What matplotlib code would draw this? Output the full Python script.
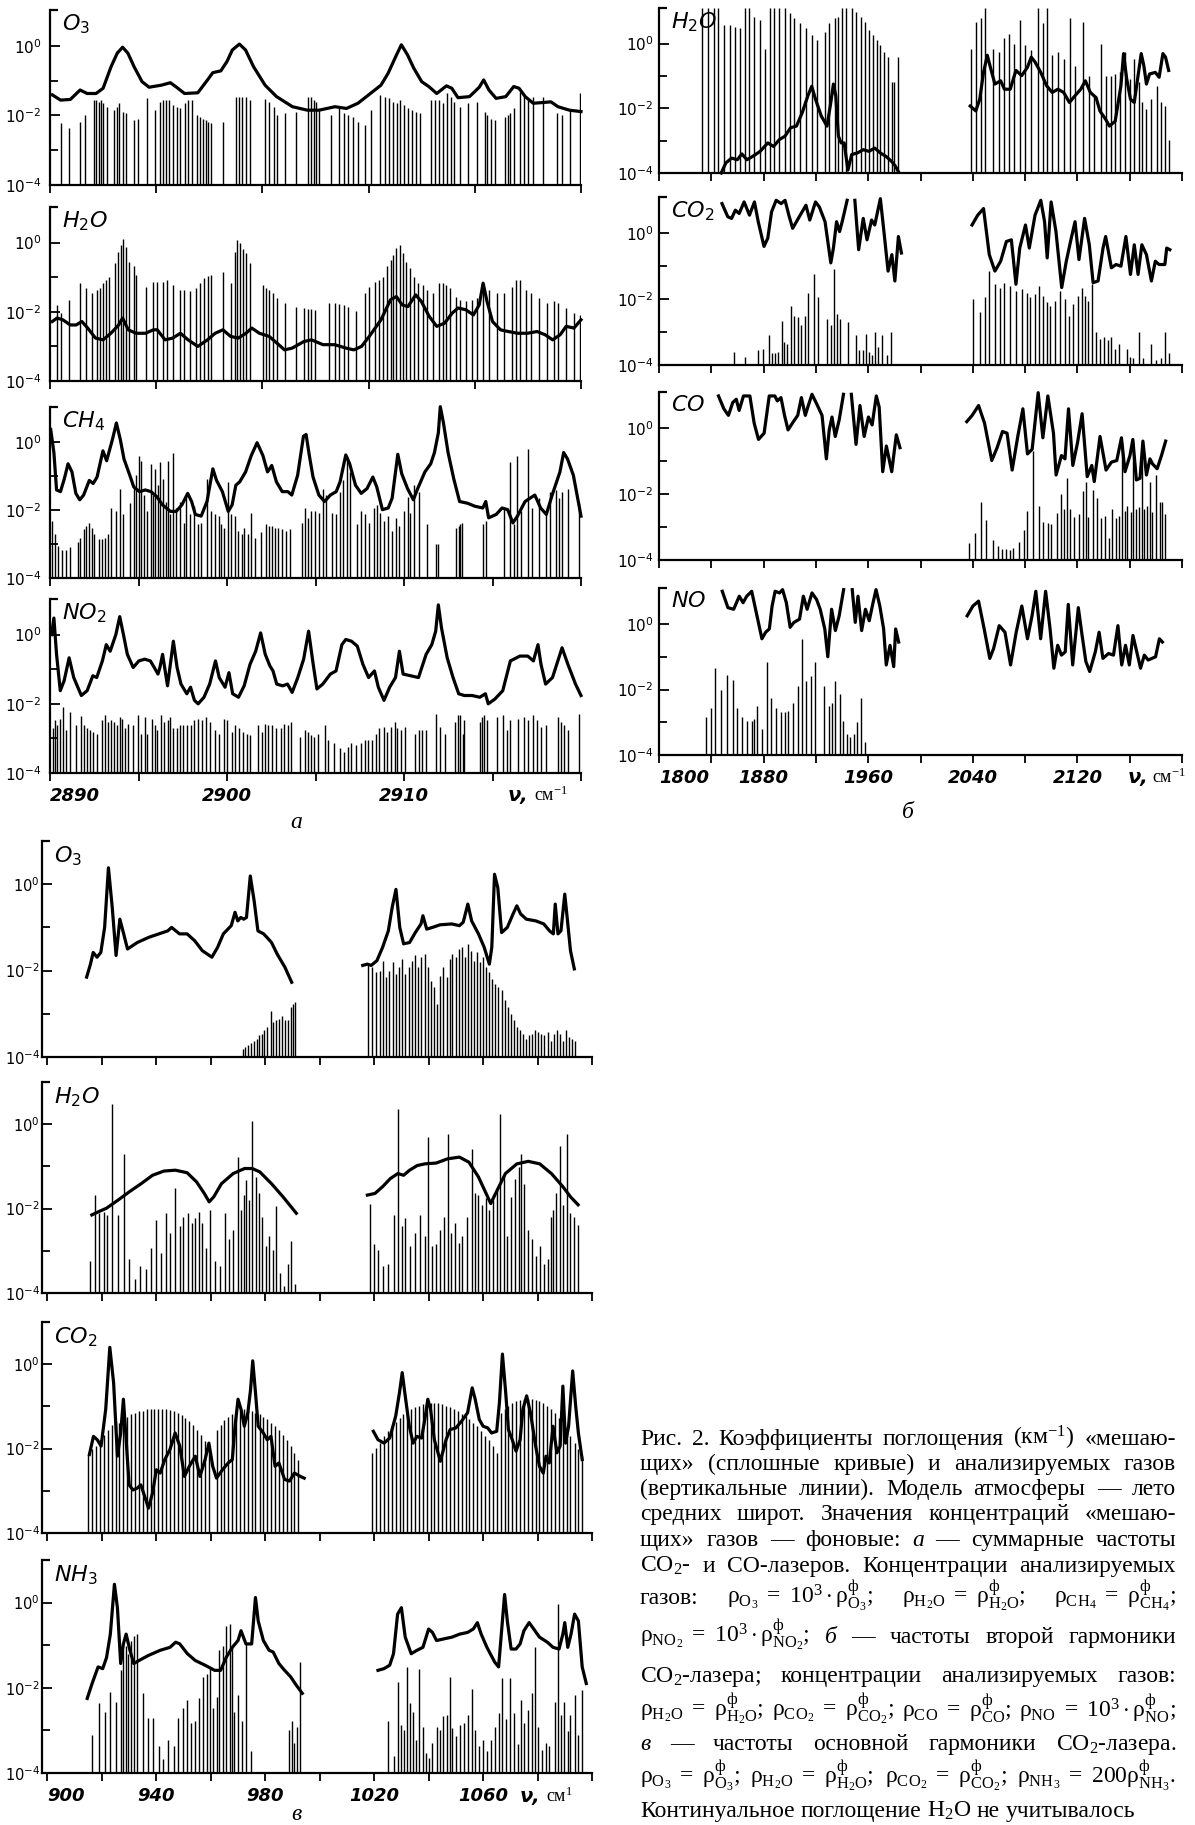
import numpy as np
import matplotlib
matplotlib.use("Agg")
import matplotlib.pyplot as plt
from matplotlib.ticker import FixedLocator, NullFormatter

plt.rcParams["mathtext.fontset"] = "custom"
plt.rcParams["mathtext.rm"] = "Liberation Serif"
plt.rcParams["mathtext.it"] = "Liberation Serif:italic"
plt.rcParams["mathtext.bf"] = "Liberation Serif:bold"

W, H = 1195, 1825

# ---------------- group "а": 2890-2920 cm-1 (lines: x, log10 k) ----------------
a_o3_lines = [(2890.6, -2.23), (2891.05, -2.37), (2891.7, -2.18), (2891.96, -1.99), (2892.46, -1.56),
              (2892.62, -1.56), (2892.75, -1.61), (2892.9, -1.56), (2893.0, -1.65), (2893.23, -1.75),
              (2893.62, -1.85), (2893.77, -1.75), (2893.92, -1.65), (2894.1, -1.90), (2894.32, -1.94),
              (2894.75, -2.14), (2894.97, -2.09), (2895.5, -1.51), (2895.95, -1.85), (2896.23, -1.61),
              (2896.4, -1.56), (2896.54, -1.56), (2896.7, -1.56), (2896.93, -1.70), (2897.15, -1.75),
              (2897.37, -1.80), (2897.63, -1.65), (2897.8, -1.56), (2898.0, -1.56), (2898.28, -1.99),
              (2898.46, -2.04), (2898.63, -2.09), (2898.8, -2.14), (2898.94, -2.18), (2899.1, -2.23),
              (2899.77, -2.18), (2900.53, -1.46), (2900.68, -1.46), (2900.86, -1.46), (2901.07, -1.46),
              (2901.3, -1.56), (2902.16, -1.54), (2902.38, -1.61), (2902.64, -1.75), (2902.82, -1.99),
              (2903.25, -1.94), (2903.9, -1.90), (2904.56, -1.46), (2904.74, -1.46), (2904.9, -1.56),
              (2905.04, -1.61), (2905.22, -1.85), (2905.87, -1.99), (2906.35, -1.80), (2906.63, -1.94),
              (2906.85, -1.99), (2907.13, -2.04), (2907.4, -2.18), (2907.8, -2.28), (2908.16, -1.85),
              (2908.66, -1.41), (2908.92, -1.46), (2909.14, -1.51), (2909.36, -1.61), (2909.58, -1.65),
              (2909.8, -1.56), (2910.0, -1.70), (2910.23, -1.80), (2910.45, -1.85), (2910.67, -1.90),
              (2910.88, -1.94), (2911.54, -1.56), (2911.76, -1.56), (2911.97, -1.56), (2912.19, -1.65),
              (2912.45, -1.37), (2912.67, -1.46), (2912.85, -1.61), (2913.17, -1.75), (2913.6, -1.65),
              (2914.15, -1.61), (2914.55, -1.90), (2914.7, -1.99), (2914.92, -2.09), (2915.13, -2.14),
              (2915.68, -2.04), (2915.85, -1.99), (2916.0, -1.94), (2916.22, -1.80), (2916.55, -1.32),
              (2916.77, -1.41), (2917.0, -1.56), (2917.3, -1.46), (2917.86, -1.46), (2918.62, -1.94),
              (2918.95, -1.99), (2919.38, -1.85), (2919.95, -1.37)]
a_o3_curve = [(2890.13, -1.41), (2890.6, -1.56), (2891.15, -1.54), (2891.7, -1.27), (2892.1, -1.37),
              (2892.6, -1.37), (2893.0, -1.22), (2893.45, -0.60), (2893.8, -0.21), (2894.1, -0.04),
              (2894.4, -0.21), (2894.75, -0.60), (2895.2, -1.03), (2895.6, -1.19), (2896.3, -1.13),
              (2896.8, -1.06), (2897.15, -1.19), (2897.6, -1.37), (2898.35, -1.35), (2898.9, -0.98),
              (2899.2, -0.77), (2899.65, -0.72), (2900.0, -0.45), (2900.3, -0.12), (2900.7, 0.05),
              (2901.05, -0.12), (2901.5, -0.60), (2902.15, -1.13), (2902.8, -1.46), (2903.7, -1.75),
              (2904.55, -1.85), (2905.2, -1.85), (2906.1, -1.75), (2906.75, -1.80), (2907.4, -1.65),
              (2908.0, -1.41), (2908.7, -1.13), (2909.1, -0.79), (2909.55, -0.29), (2909.85, 0.03),
              (2910.2, -0.26), (2910.55, -0.64), (2911.0, -1.03), (2911.4, -1.17), (2911.85, -1.37),
              (2912.4, -1.15), (2912.7, -1.22), (2913.05, -1.49), (2913.7, -1.46), (2914.25, -1.19),
              (2914.5, -0.98), (2914.8, -1.27), (2915.2, -1.51), (2915.75, -1.46), (2916.2, -1.17),
              (2916.5, -1.22), (2916.85, -1.46), (2917.3, -1.65), (2917.85, -1.63), (2918.3, -1.61),
              (2918.7, -1.75), (2919.35, -1.85), (2920.0, -1.89)]

a_h2o_lines = [(2890.4, -1.80), (2890.6, -2.04), (2891.05, -1.65), (2891.7, -1.17), (2892.03, -1.31),
               (2892.35, -1.46), (2892.68, -1.37), (2892.83, -1.32), (2893.0, -1.17), (2893.18, -1.08),
               (2893.33, -0.98), (2893.66, -0.60), (2893.84, -0.26), (2894.0, -0.07), (2894.1, 0.10),
               (2894.27, -0.12), (2894.49, -0.55), (2894.75, -0.69), (2894.86, -0.93), (2895.4, -1.27),
               (2895.84, -1.13), (2896.06, -1.13), (2896.39, -1.13), (2896.6, -1.08), (2896.93, -1.22),
               (2897.37, -1.37), (2897.59, -1.37), (2897.91, -1.41), (2898.24, -1.32), (2898.46, -1.17),
               (2898.68, -1.03), (2898.9, -0.96), (2899.11, -0.93), (2899.77, -0.84), (2900.2, -1.17),
               (2900.46, -0.26), (2900.59, 0.08), (2900.74, -0.02), (2900.9, -0.17), (2901.07, -0.31),
               (2901.29, -0.60), (2902.05, -1.22), (2902.2, -1.32), (2902.38, -1.37), (2902.6, -1.46),
               (2902.81, -1.61), (2903.25, -1.75), (2903.9, -1.85), (2904.34, -1.89), (2904.56, -1.92),
               (2904.77, -1.92), (2904.99, -1.94), (2905.76, -1.75), (2906.08, -1.75), (2906.3, -1.77),
               (2906.63, -1.80), (2906.85, -1.85), (2907.28, -1.99), (2907.78, -1.46), (2908.04, -1.27),
               (2908.37, -1.13), (2908.59, -1.08), (2908.8, -0.98), (2909.02, -0.69), (2909.24, -0.50),
               (2909.4, -0.36), (2909.57, -0.16), (2909.79, -0.07), (2909.96, -0.31), (2910.11, -0.55),
               (2910.33, -0.74), (2910.55, -0.98), (2910.77, -1.17), (2911.05, -1.22), (2911.31, -1.37),
               (2911.64, -1.46), (2911.97, -1.17), (2912.19, -1.17), (2912.4, -1.22), (2912.62, -1.32),
               (2912.95, -1.56), (2913.17, -1.65), (2913.49, -1.70), (2913.82, -1.65), (2914.1, -1.61),
               (2914.47, -1.27), (2914.8, -1.37), (2915.23, -1.46), (2915.67, -1.46), (2916.11, -1.27),
               (2916.32, -1.08), (2916.54, -1.08), (2916.87, -1.37), (2917.2, -1.46), (2917.63, -1.61),
               (2918.07, -1.75), (2918.5, -1.70), (2918.72, -1.75), (2919.16, -1.89), (2919.6, -2.04),
               (2919.93, -2.09)]
a_h2o_curve = [(2890.13, -2.28), (2890.4, -2.18), (2890.72, -2.23), (2891.15, -2.38), (2891.48, -2.38),
               (2891.8, -2.28), (2892.13, -2.47), (2892.57, -2.76), (2893.0, -2.81), (2893.44, -2.62),
               (2893.88, -2.38), (2894.1, -2.18), (2894.42, -2.52), (2894.86, -2.62), (2895.4, -2.62),
               (2895.84, -2.52), (2896.06, -2.52), (2896.5, -2.81), (2896.93, -2.76), (2897.37, -2.62),
               (2897.8, -2.81), (2898.35, -3.0), (2898.9, -2.81), (2899.33, -2.62), (2899.77, -2.52),
               (2900.2, -2.71), (2900.64, -2.76), (2901.07, -2.62), (2901.4, -2.47), (2901.83, -2.62),
               (2902.38, -2.71), (2902.81, -2.90), (2903.25, -3.10), (2903.68, -3.05), (2904.34, -2.86),
               (2904.77, -2.81), (2905.42, -2.95), (2906.08, -2.95), (2906.73, -3.05), (2907.17, -3.10),
               (2907.6, -3.0), (2908.04, -2.71), (2908.7, -2.23), (2909.24, -1.65), (2909.57, -1.56),
               (2909.9, -1.80), (2910.22, -1.85), (2910.66, -1.51), (2910.98, -1.70), (2911.42, -2.13),
               (2911.85, -2.42), (2912.29, -2.33), (2912.72, -2.04), (2913.05, -1.89), (2913.49, -1.94),
               (2913.92, -2.09), (2914.25, -1.80), (2914.47, -1.17), (2914.69, -1.70), (2915.0, -2.28),
               (2915.45, -2.52), (2915.89, -2.57), (2916.43, -2.62), (2916.97, -2.62), (2917.52, -2.57),
               (2917.96, -2.66), (2918.4, -2.81), (2918.83, -2.66), (2919.16, -2.42), (2919.6, -2.47),
               (2920.0, -2.23)]

a_ch4_lines = [(2890.11, -2.33), (2890.26, -2.71), (2890.44, -3.05), (2890.7, -3.19), (2890.92, -3.19),
               (2891.13, -3.10), (2891.57, -2.95), (2891.72, -2.81), (2891.9, -2.57), (2892.05, -2.47),
               (2892.22, -2.38), (2892.38, -2.52), (2892.51, -2.71), (2892.77, -2.86), (2892.92, -2.86),
               (2893.09, -2.81), (2893.27, -2.71), (2893.42, -1.94), (2893.75, -2.04), (2893.97, -1.37),
               (2894.14, -2.13), (2894.51, -1.80), (2894.73, -1.27), (2894.84, -0.98), (2895.01, -0.40),
               (2895.16, -0.55), (2895.32, -1.56), (2895.49, -2.04), (2895.71, -0.64), (2895.82, -1.56),
               (2895.93, -0.79), (2896.1, -1.27), (2896.21, -0.60), (2896.36, -1.08), (2896.54, -1.75),
               (2896.69, -0.55), (2896.8, -2.13), (2896.95, -0.31), (2897.13, -1.94), (2897.34, -1.75),
               (2897.56, -2.38), (2897.71, -1.56), (2897.89, -2.13), (2898.11, -1.89), (2898.37, -2.42),
               (2898.54, -2.38), (2898.87, -1.08), (2899.09, -2.04), (2899.3, -2.13), (2899.52, -2.18),
               (2899.67, -2.42), (2899.85, -2.52), (2900.07, -1.17), (2900.24, -2.13), (2900.46, -2.18),
               (2900.61, -2.62), (2900.83, -2.71), (2900.98, -2.52), (2901.16, -2.71), (2901.37, -2.09),
               (2901.59, -2.81), (2901.92, -2.66), (2902.2, -2.42), (2902.35, -2.47), (2902.57, -2.47),
               (2902.73, -2.52), (2902.9, -2.52), (2903.12, -2.57), (2903.34, -2.62), (2903.55, -2.57),
               (2904.21, -2.38), (2904.43, -1.94), (2904.6, -2.23), (2904.75, -2.04), (2904.97, -2.04),
               (2905.19, -2.09), (2905.41, -1.37), (2905.62, -1.56), (2905.95, -2.09), (2906.17, -2.13),
               (2906.39, -1.46), (2906.56, -1.13), (2906.78, -0.40), (2906.93, -0.88), (2907.37, -2.42),
               (2907.58, -2.04), (2907.8, -2.13), (2908.02, -2.38), (2908.3, -1.94), (2908.46, -1.85),
               (2908.67, -2.09), (2908.89, -2.33), (2909.11, -2.18), (2909.33, -2.62), (2909.55, -2.23),
               (2909.7, -2.47), (2909.98, -2.04), (2910.2, -1.61), (2910.35, -2.09), (2910.57, -1.27),
               (2910.85, -1.46), (2911.29, -2.42), (2911.83, -2.99), (2911.9, -2.99), (2912.92, -2.52),
               (2913.08, -2.47), (2913.18, -2.42), (2913.29, -2.38), (2914.45, -2.42), (2914.62, -2.33),
               (2915.65, -1.94), (2915.97, -0.60), (2916.19, -2.42), (2916.41, -0.40), (2916.63, -2.04),
               (2917.02, -0.21), (2917.24, -1.94), (2917.61, -1.65), (2918.04, -2.04), (2918.26, -1.46),
               (2918.59, -1.41), (2918.76, -1.65), (2918.92, -1.46), (2919.24, -1.37), (2919.9, -1.80)]
a_ch4_curve = [(2890.04, 0.37), (2890.22, -0.31), (2890.37, -1.41), (2890.59, -1.46), (2890.81, -1.08),
               (2891.02, -0.64), (2891.24, -0.88), (2891.46, -1.51), (2891.68, -1.70), (2891.9, -1.56),
               (2892.22, -1.13), (2892.44, -1.22), (2892.66, -1.03), (2892.99, -0.26), (2893.2, -0.55),
               (2893.53, 0.08), (2893.75, 0.56), (2893.97, 0.08), (2894.18, -0.50), (2894.51, -0.98),
               (2894.73, -1.32), (2895.06, -1.46), (2895.38, -1.41), (2895.71, -1.46), (2896.04, -1.61),
               (2896.36, -1.85), (2896.8, -2.04), (2897.13, -2.04), (2897.45, -1.85), (2897.78, -1.51),
               (2898.0, -1.75), (2898.21, -2.13), (2898.54, -2.18), (2898.87, -1.75), (2899.2, -0.79),
               (2899.41, -1.13), (2899.74, -1.46), (2900.07, -2.04), (2900.29, -1.85), (2900.5, -1.27),
               (2900.72, -1.17), (2901.05, -0.88), (2901.37, -0.40), (2901.7, -0.02), (2902.03, -0.40),
               (2902.29, -0.88), (2902.53, -0.69), (2902.79, -1.17), (2903.12, -1.46), (2903.44, -1.46),
               (2903.66, -1.56), (2903.99, -0.98), (2904.32, 0.17), (2904.47, 0.22), (2904.64, -0.36),
               (2904.86, -1.03), (2905.19, -1.56), (2905.51, -1.75), (2905.84, -1.56), (2906.17, -1.46),
               (2906.39, -1.17), (2906.71, -0.38), (2906.93, -0.64), (2907.26, -1.27), (2907.58, -1.51),
               (2907.91, -1.37), (2908.24, -1.03), (2908.46, -1.32), (2908.78, -1.99), (2909.11, -1.94),
               (2909.33, -1.65), (2909.65, -0.36), (2909.87, -0.93), (2910.2, -1.37), (2910.53, -1.70),
               (2910.74, -1.41), (2911.18, -0.88), (2911.51, -0.64), (2911.72, -0.31), (2911.94, 0.27),
               (2912.05, 1.04), (2912.23, 0.56), (2912.49, -0.31), (2912.81, -1.08), (2913.14, -1.75),
               (2913.58, -1.80), (2914.01, -1.89), (2914.45, -1.94), (2914.62, -1.75), (2914.78, -2.23),
               (2915.21, -2.13), (2915.54, -1.94), (2915.86, -1.99), (2916.15, -2.38), (2916.41, -2.18),
               (2916.84, -1.75), (2917.39, -1.56), (2917.72, -1.94), (2918.04, -2.13), (2918.37, -1.56),
               (2918.81, -0.88), (2919.02, -0.31), (2919.24, -0.50), (2919.57, -0.98), (2920.0, -2.18)]

a_no2_lines = [(2890.15, -2.71), (2890.26, -2.48), (2890.41, -2.62), (2890.58, -2.43), (2890.74, -2.10),
               (2890.91, -2.76), (2891.13, -2.24), (2891.45, -2.62), (2891.77, -2.36), (2891.93, -2.62),
               (2892.1, -2.71), (2892.25, -2.76), (2892.42, -2.81), (2892.64, -2.86), (2892.96, -2.48),
               (2893.12, -2.33), (2893.29, -2.52), (2893.46, -2.48), (2893.61, -2.52), (2893.77, -2.62),
               (2893.94, -2.38), (2894.07, -2.43), (2894.26, -2.71), (2894.41, -2.57), (2894.7, -2.62),
               (2894.98, -2.33), (2895.13, -2.86), (2895.35, -2.38), (2895.5, -2.86), (2895.78, -2.43),
               (2895.93, -2.62), (2896.06, -2.76), (2896.28, -2.33), (2896.43, -2.52), (2896.64, -2.48),
               (2896.8, -2.38), (2896.97, -2.71), (2897.18, -2.71), (2897.36, -2.62), (2897.51, -2.62),
               (2897.73, -2.62), (2897.94, -2.62), (2898.16, -2.48), (2898.37, -2.43), (2898.59, -2.48),
               (2898.81, -2.38), (2899.02, -2.52), (2899.31, -2.76), (2899.52, -2.86), (2899.82, -2.43),
               (2900.0, -2.48), (2900.26, -2.81), (2900.47, -2.62), (2900.69, -2.71), (2900.91, -2.81),
               (2901.12, -2.86), (2901.3, -2.90), (2901.73, -2.62), (2901.95, -2.81), (2902.16, -2.57),
               (2902.33, -2.62), (2902.55, -2.62), (2902.77, -2.71), (2903.03, -2.71), (2903.2, -2.57),
               (2903.42, -2.62), (2903.63, -2.52), (2904.11, -2.95), (2904.43, -2.76), (2904.59, -2.81),
               (2904.72, -2.90), (2904.93, -2.95), (2905.15, -2.86), (2905.52, -2.62), (2905.73, -3.05),
               (2906.06, -3.14), (2906.38, -3.29), (2906.6, -3.38), (2906.81, -3.24), (2907.03, -3.14),
               (2907.31, -3.19), (2907.57, -3.14), (2907.79, -3.05), (2907.96, -3.05), (2908.18, -3.05),
               (2908.44, -2.86), (2908.61, -2.71), (2908.87, -2.67), (2909.04, -2.81), (2909.26, -2.67),
               (2909.48, -2.52), (2909.63, -2.71), (2909.84, -2.76), (2910.06, -2.67), (2910.6, -2.86),
               (2910.82, -2.76), (2910.99, -2.76), (2911.25, -2.76), (2911.79, -2.29), (2912.01, -2.67),
               (2912.33, -2.86), (2912.87, -2.52), (2913.03, -2.33), (2913.15, -2.33), (2913.31, -2.86),
               (2913.41, -2.48), (2914.28, -2.52), (2914.39, -2.38), (2914.5, -2.33), (2914.67, -2.48),
               (2915.25, -2.38), (2915.58, -2.33), (2915.8, -2.76), (2916.01, -2.48), (2916.44, -2.43),
               (2916.77, -2.38), (2916.98, -2.48), (2917.31, -2.33), (2917.53, -2.48), (2917.74, -2.67),
               (2918.0, -2.62), (2918.72, -2.38), (2918.87, -2.52), (2919.04, -2.62), (2919.26, -2.76),
               (2919.91, -2.29)]
a_no2_curve = [(2890.09, 0.0), (2890.22, 0.48), (2890.37, -0.57), (2890.58, -1.62), (2890.8, -1.33),
               (2891.08, -0.67), (2891.34, -1.24), (2891.77, -1.76), (2892.1, -1.62), (2892.42, -1.19),
               (2892.64, -1.24), (2892.96, -0.76), (2893.18, -0.29), (2893.4, -0.48), (2893.72, 0.0),
               (2893.94, 0.52), (2894.15, 0.0), (2894.37, -0.57), (2894.7, -0.95), (2895.02, -0.76),
               (2895.35, -0.71), (2895.67, -0.76), (2895.89, -0.95), (2896.1, -1.14), (2896.21, -0.95),
               (2896.36, -0.57), (2896.64, -1.48), (2896.97, -0.19), (2897.18, -0.95), (2897.4, -1.43),
               (2897.73, -1.71), (2897.94, -1.52), (2898.16, -1.90), (2898.37, -2.0), (2898.7, -1.81),
               (2899.02, -1.43), (2899.35, -0.76), (2899.56, -1.24), (2899.89, -1.52), (2900.11, -1.10),
               (2900.32, -1.71), (2900.65, -1.81), (2900.97, -1.48), (2901.3, -0.86), (2901.62, -0.48),
               (2901.9, 0.05), (2902.16, -0.57), (2902.42, -0.90), (2902.6, -1.05), (2902.81, -1.43),
               (2903.14, -1.48), (2903.42, -1.43), (2903.68, -1.67), (2904.0, -1.24), (2904.33, -0.71),
               (2904.61, 0.10), (2904.87, -0.86), (2905.08, -1.57), (2905.41, -1.43), (2905.84, -1.14),
               (2906.16, -1.05), (2906.49, -0.29), (2906.71, -0.14), (2907.03, -0.19), (2907.36, -0.33),
               (2907.68, -0.86), (2908.0, -1.24), (2908.33, -1.05), (2908.55, -1.52), (2908.87, -1.90),
               (2909.19, -1.52), (2909.52, -1.24), (2909.74, -0.48), (2909.95, -1.14), (2910.38, -1.19),
               (2910.82, -1.24), (2911.25, -0.57), (2911.57, -0.29), (2911.79, 0.10), (2911.94, 0.86),
               (2912.12, 0.19), (2912.44, -0.67), (2912.77, -1.24), (2913.09, -1.71), (2913.41, -1.76),
               (2913.85, -1.76), (2914.28, -1.81), (2914.6, -1.71), (2914.76, -2.0), (2915.14, -1.86),
               (2915.58, -1.62), (2916.01, -0.76), (2916.55, -0.62), (2916.99, -0.62), (2917.31, -0.76),
               (2917.57, -0.29), (2917.74, -0.86), (2918.0, -1.43), (2918.39, -1.24), (2918.93, -0.38),
               (2919.26, -0.86), (2919.69, -1.43), (2920.0, -1.76)]

# ---------------- group "б": 1800-2200 cm-1 ----------------
b_h2o_lines = [(1833.0, 1.1), (1837.4, 1.1), (1841.8, 1.1), (1845.3, 1.1), (1849.6, 0.57), (1854.0, 0.57),
               (1858.4, 0.52), (1862.2, 0.47), (1865.7, 1.1), (1869.2, 1.1), (1873.0, 0.83), (1877.4, 0.73),
               (1880.9, -0.16), (1884.7, 1.1), (1887.6, 1.1), (1892.0, 1.1), (1896.4, 1.09), (1900.1, 0.94),
               (1903.6, 0.78), (1908.0, 0.63), (1912.4, 0.47), (1916.8, 0.26), (1921.2, 0.10), (1927.0, 0.36),
               (1929.9, 0.63), (1934.3, 0.78), (1937.2, 0.83), (1940.1, 1.1), (1943.1, 1.1), (1947.4, 1.1),
               (1950.9, 0.99), (1954.7, 0.83), (1957.7, 0.68), (1960.6, 0.42), (1963.5, 0.26), (1966.4, 0.10),
               (1969.3, -0.05), (1972.3, -0.26), (1975.2, -0.42), (1978.1, -1.20), (1980.1, -1.20),
               (1982.5, -0.42),
               (2038.5, -0.16), (2042.3, 0.68), (2046.1, 0.78), (2049.6, 1.09), (2055.5, -0.16), (2059.9, -0.26),
               (2063.6, 0.16), (2067.7, 0.31), (2071.5, 0.0), (2075.9, 0.73), (2080.3, -0.05), (2084.7, -0.21),
               (2089.9, 1.1), (2093.4, 0.63), (2096.9, 1.1), (2100.7, -0.36), (2105.1, -0.26), (2109.5, -0.47),
               (2114.5, 0.78), (2118.2, -0.68), (2124.1, 0.68), (2128.5, -0.99), (2132.8, -1.61), (2137.8, 0.0),
               (2141.6, -0.99), (2145.4, -0.99), (2148.9, -0.94), (2152.4, -0.89), (2156.2, -0.26),
               (2160.6, -1.09), (2163.5, -0.47), (2167.0, -1.20), (2169.3, -1.82), (2172.8, -2.03),
               (2176.6, -1.72), (2181.0, -1.30), (2183.9, -1.82), (2186.9, -1.93), (2189.8, -2.97)]
b_h2o_curve = [
    [(1847.6, -4.0), (1851.1, -3.69), (1855.5, -3.54), (1859.9, -3.59), (1863.4, -3.41), (1867.2, -3.59),
     (1871.5, -3.49), (1877.4, -3.33), (1883.2, -3.07), (1887.6, -3.18), (1892.0, -2.97), (1896.4, -2.86),
     (1900.7, -2.60), (1905.1, -2.55), (1909.5, -2.14), (1913.9, -1.61), (1916.8, -1.32), (1919.7, -1.72),
     (1924.1, -2.24), (1928.5, -2.55), (1931.4, -1.82), (1933.4, -1.25), (1935.2, -1.61), (1937.2, -2.86),
     (1939.3, -3.07), (1941.6, -3.07), (1944.5, -3.91), (1947.4, -3.43), (1951.8, -3.38), (1956.2, -3.28),
     (1960.6, -3.33), (1965.0, -3.23), (1969.3, -3.38), (1973.7, -3.49), (1978.1, -3.65), (1981.0, -3.80),
     (1983.1, -3.96)],
    [(2038.0, -1.93), (2042.3, -2.08), (2045.3, -1.72), (2048.2, -0.89), (2051.1, -0.36), (2053.1, -0.68),
     (2056.9, -1.25), (2061.3, -1.15), (2064.2, -1.41), (2068.6, -1.41), (2073.0, -0.83), (2077.4, -0.99),
     (2081.8, -0.73), (2084.7, -0.42), (2087.6, -0.57), (2092.0, -0.89), (2096.4, -1.30), (2100.7, -1.51),
     (2105.1, -1.41), (2109.5, -1.51), (2113.9, -1.82), (2118.2, -1.61), (2122.6, -1.41), (2126.1, -1.15),
     (2129.9, -1.51), (2134.3, -1.67), (2137.2, -2.08), (2141.6, -2.34), (2144.5, -2.55), (2148.9, -2.40),
     (2153.3, -1.30), (2155.3, -0.31), (2157.7, -1.09), (2160.6, -1.72), (2163.5, -1.82), (2166.4, -0.99),
     (2168.8, -0.31), (2170.8, -0.68), (2172.8, -1.25), (2175.2, -0.94), (2179.6, -0.89), (2182.5, -1.04),
     (2185.4, -0.31), (2187.4, -0.42), (2189.8, -0.83)]]

b_co2_lines = [(1857.5, -3.60), (1865.7, -3.75), (1875.9, -3.55), (1879.7, -3.50), (1883.8, -3.10),
               (1886.1, -3.65), (1888.5, -3.65), (1890.8, -3.60), (1894.0, -2.65), (1895.5, -3.30),
               (1897.8, -3.35), (1901.3, -2.20), (1903.6, -2.50), (1906.0, -2.55), (1908.3, -2.80),
               (1911.5, -2.50), (1914.2, -1.80), (1918.2, -1.25), (1921.8, -1.95), (1928.5, -2.60),
               (1931.4, -2.80), (1933.7, -1.10), (1935.8, -2.45), (1938.1, -2.60), (1944.5, -2.70),
               (1950.9, -3.10), (1953.3, -3.55), (1956.2, -3.55), (1958.2, -3.05), (1960.6, -3.60),
               (1962.6, -3.70), (1965.0, -3.00), (1967.3, -3.45), (1970.8, -3.10), (1974.3, -3.70),
               (1977.2, -3.00),
               (2040.3, -2.00), (2045.3, -2.40), (2049.1, -1.93), (2052.6, -1.15), (2056.9, -1.55),
               (2060.7, -1.65), (2064.2, -1.50), (2068.6, -1.60), (2073.0, -1.75), (2077.4, -1.70),
               (2081.2, -1.80), (2084.1, -1.95), (2087.6, -1.85), (2090.5, -1.60), (2093.4, -1.90),
               (2096.9, -2.10), (2099.3, -2.20), (2102.8, -2.05), (2106.6, -1.75), (2110.4, -2.00),
               (2113.3, -2.50), (2116.8, -2.15), (2120.3, -1.90), (2123.2, -1.65), (2125.5, -1.90),
               (2127.9, -2.05), (2131.4, -1.55), (2134.3, -3.00), (2137.2, -3.20), (2140.1, -3.15),
               (2143.1, -3.25), (2146.0, -3.15), (2148.9, -3.50), (2151.8, -3.35), (2157.7, -3.50),
               (2160.6, -3.75), (2162.9, -3.80), (2167.0, -3.00), (2169.9, -3.80), (2176.6, -3.35),
               (2180.4, -3.85), (2183.9, -3.80), (2186.9, -3.00), (2189.8, -3.65)]
b_co2_curve = [
    [(1848.2, 0.90), (1852.6, 0.50), (1855.5, 0.45), (1858.4, 0.70), (1861.3, 0.60), (1865.1, 0.95),
     (1869.2, 0.55), (1873.0, 0.95), (1875.9, 0.35), (1880.3, -0.40), (1883.2, -0.15), (1886.1, 0.65),
     (1889.6, 1.00), (1893.4, 0.90), (1896.4, 1.00), (1899.3, 0.55), (1902.2, 0.15), (1905.1, 0.35),
     (1908.0, 0.55), (1912.4, 0.85), (1915.3, 0.40), (1919.7, 0.95), (1922.6, 0.80), (1927.0, 0.35),
     (1931.4, -0.90), (1933.4, -0.45), (1935.8, 0.35), (1938.1, 0.05), (1940.1, 0.35), (1943.9, 1.00)],
    [(1949.8, 1.00), (1952.7, -0.50), (1956.2, 0.45), (1959.1, -0.20), (1962.6, 0.40), (1965.0, 0.25),
     (1969.3, 1.05), (1972.3, -0.05), (1975.2, -1.15), (1978.1, -0.65), (1980.4, -1.45), (1983.1, -0.10),
     (1985.4, -0.60)],
    [(2039.4, 0.25), (2043.8, 0.55), (2048.2, 0.75), (2052.6, -0.65), (2056.9, -1.15), (2061.3, -0.85),
     (2065.7, -0.25), (2069.5, -0.20), (2073.0, -1.55), (2075.9, -0.45), (2080.3, 0.25), (2083.2, -0.45),
     (2087.6, 0.55), (2092.0, 1.00), (2094.9, 0.35), (2096.9, -0.75), (2099.9, 0.95), (2103.6, 0.05),
     (2108.0, -1.65), (2111.5, -0.85), (2115.3, -0.15), (2118.2, 0.35), (2121.2, -0.80), (2125.5, 0.45),
     (2129.1, -0.35), (2132.0, -1.50), (2135.8, -1.45), (2139.6, -0.45), (2141.6, -0.10), (2146.0, -1.05),
     (2149.5, -0.95), (2153.3, -1.00), (2157.1, -0.10), (2160.6, -1.25), (2163.5, -0.35), (2166.4, -1.25),
     (2169.3, -0.35), (2172.8, -0.65), (2176.6, -1.45), (2179.6, -0.85), (2182.5, -0.95), (2186.9, -0.95),
     (2188.3, -0.45), (2190.7, -0.50)]]

b_co_lines = [(2037.3, -3.48), (2041.6, -3.17), (2046.3, -2.25), (2050.4, -2.79), (2055.3, -3.38),
              (2059.1, -3.58), (2062.7, -3.68), (2065.4, -3.68), (2068.1, -3.70), (2070.9, -3.63),
              (2075.5, -3.46), (2079.1, -3.09), (2081.8, -2.50), (2086.4, -0.69), (2090.5, -2.35),
              (2094.0, -2.84), (2097.4, -2.89), (2100.1, -2.91), (2104.5, -2.58), (2107.8, -2.01),
              (2110.0, -2.45), (2111.9, -1.52), (2114.6, -2.45), (2117.3, -2.70), (2120.9, -2.60),
              (2124.2, -1.91), (2126.3, -1.62), (2128.3, -2.70), (2131.8, -1.86), (2135.1, -2.11),
              (2137.8, -2.74), (2141.1, -2.65), (2143.8, -3.33), (2146.6, -2.45), (2149.3, -2.74),
              (2152.0, -2.65), (2154.2, -0.44), (2156.4, -2.50), (2158.3, -2.35), (2161.0, -2.55),
              (2162.9, -0.39), (2165.1, -2.45), (2167.3, -2.40), (2169.2, -0.39), (2171.1, -2.45),
              (2173.3, -2.35), (2175.5, -1.62), (2177.4, -2.55), (2180.1, -1.42), (2182.9, -2.25),
              (2184.8, -2.25), (2187.0, -2.60)]
b_co_curve = [
    [(1845.5, 0.98), (1849.6, 0.59), (1853.1, 0.39), (1856.4, 0.78), (1859.1, 0.88), (1861.3, 0.54),
     (1864.6, 0.98), (1869.5, 0.98), (1872.8, 0.15), (1876.1, -0.34), (1880.4, -0.15), (1884.3, 0.98),
     (1888.6, 0.98), (1890.5, 0.83), (1893.3, 0.93), (1896.0, 0.39), (1898.7, -0.05), (1902.8, 0.20),
     (1906.1, 0.39), (1908.9, 0.93), (1911.9, 0.39), (1913.8, 0.64), (1917.0, 1.03), (1920.6, 0.74),
     (1924.7, 0.39), (1928.0, -0.93), (1930.2, -0.05), (1932.3, 0.34), (1934.8, -0.25), (1937.8, 0.25),
     (1941.1, 1.03)],
    [(1947.1, 1.03), (1950.7, -0.49), (1953.7, 0.69), (1956.9, -0.25), (1960.2, 0.34), (1963.0, 0.10),
     (1966.2, 0.98), (1968.4, 0.64), (1971.1, -1.32), (1973.9, -0.54), (1978.0, -1.32), (1981.5, -0.20),
     (1984.3, -0.59)],
    [(2035.4, 0.20), (2039.5, 0.39), (2044.4, 0.69), (2049.0, 0.15), (2054.5, -0.98), (2058.6, -0.59),
     (2062.7, -0.10), (2066.2, -0.15), (2070.1, -1.27), (2074.4, -0.25), (2078.3, 0.59), (2081.8, -0.78),
     (2085.4, -0.64), (2090.0, 1.08), (2093.6, -0.29), (2097.4, 0.98), (2101.7, -0.15), (2103.7, -1.42),
     (2107.8, -0.83), (2110.5, -0.93), (2113.2, 0.59), (2116.5, -1.13), (2120.1, -0.44), (2123.6, 0.44),
     (2127.5, -1.47), (2131.0, -1.13), (2132.9, -1.62), (2137.3, -0.25), (2141.9, -1.27), (2146.0, -1.03),
     (2150.1, -0.98), (2153.7, -0.29), (2156.4, -1.32), (2160.2, -0.83), (2162.4, -0.34), (2165.1, -1.57),
     (2167.9, -1.52), (2170.1, -0.39), (2172.8, -1.42), (2175.5, -0.93), (2177.4, -1.08), (2181.0, -1.23),
     (2184.3, -0.83), (2187.5, -0.39)]]

b_no_lines = [(1835.7, -2.85), (1839.8, -2.55), (1843.2, -1.35), (1847.6, -2.00), (1851.9, -1.55),
              (1856.5, -1.70), (1859.9, -2.55), (1863.7, -2.85), (1867.1, -2.95), (1870.9, -2.95),
              (1872.9, -2.90), (1874.9, -2.50), (1878.7, -3.20), (1882.4, -1.15), (1885.9, -2.25),
              (1889.3, -2.55), (1893.1, -2.70), (1896.0, -2.70), (1898.8, -2.65), (1902.6, -2.40),
              (1906.6, -1.90), (1909.5, -0.45), (1912.4, -1.75), (1916.1, -1.60), (1919.6, -1.15),
              (1926.2, -1.90), (1929.7, -2.50), (1932.6, -2.40), (1934.9, -1.75), (1938.3, -2.15),
              (1940.6, -2.95), (1943.5, -3.35), (1946.4, -3.45), (1949.3, -3.35), (1951.6, -3.00),
              (1954.5, -2.25), (1957.3, -3.60)]
b_no_curve = [
    [(1848.4, 1.00), (1852.7, 0.50), (1857.1, 0.45), (1861.4, 0.85), (1864.3, 0.65), (1867.1, 0.85),
     (1870.9, 1.00), (1874.4, 0.35), (1878.7, -0.45), (1881.6, -0.25), (1884.4, -0.15), (1886.5, 0.55),
     (1888.8, 1.00), (1892.2, 0.95), (1894.5, 1.05), (1897.4, 0.65), (1900.3, -0.10), (1903.2, 0.05),
     (1907.5, 0.15), (1910.4, 0.85), (1913.3, 0.45), (1917.0, 0.95), (1920.5, 0.75), (1923.3, 0.45),
     (1926.8, -0.15), (1929.1, -1.00), (1932.0, 0.45), (1934.9, -0.20), (1937.8, 0.25), (1941.2, 1.05)],
    [(1947.8, 1.05), (1950.1, 0.05), (1952.2, 0.85), (1955.0, -0.20), (1957.9, 0.45), (1960.8, 0.10),
     (1963.7, 0.65), (1966.0, 1.05), (1968.9, 0.55), (1971.8, -0.15), (1973.8, -1.25), (1976.7, -0.65),
     (1979.5, -1.30), (1981.0, -0.15), (1983.3, -0.55)],
    [(2035.7, 0.25), (2040.1, 0.55), (2044.4, 0.70), (2048.7, -0.15), (2053.0, -1.05), (2055.9, -0.75),
     (2060.2, -0.05), (2064.6, -0.25), (2068.9, -1.25), (2073.2, -0.25), (2077.5, 0.55), (2081.8, -0.45),
     (2085.3, 0.25), (2088.2, 1.00), (2091.9, -0.45), (2095.7, 1.00), (2099.1, -0.15), (2102.0, -1.35),
     (2104.9, -0.65), (2107.8, -0.95), (2110.7, -0.85), (2113.0, 0.60), (2116.4, -1.25), (2120.7, 0.50),
     (2123.6, -0.35), (2126.5, -1.15), (2129.4, -1.45), (2133.7, -0.85), (2136.6, -0.25), (2139.5, -1.05),
     (2143.8, -0.90), (2147.6, -0.95), (2151.0, -0.05), (2153.9, -1.25), (2156.8, -0.65), (2159.7, -1.25),
     (2162.5, -0.35), (2165.4, -0.85), (2168.3, -1.35), (2171.2, -0.95), (2174.1, -1.10), (2179.8, -1.00),
     (2182.7, -0.45), (2185.0, -0.55)]]

# ---------------- group "в": 900-1100 cm-1 ----------------
c_o3_lines = [(971.7, -3.81), (972.7, -3.78), (973.8, -3.73), (974.9, -3.68), (975.9, -3.63), (976.9, -3.58),
              (977.7, -3.50), (978.7, -3.46), (979.7, -3.38), (980.8, -3.31), (982.0, -2.94), (983.0, -3.19),
              (983.9, -3.15), (985.1, -3.12), (986.2, -3.04), (987.2, -3.15), (988.2, -3.15), (989.3, -2.85),
              (990.3, -2.77), (991.0, -2.73),
              (1017.7, -1.85), (1019.2, -1.92), (1020.6, -2.04), (1022.0, -2.00), (1023.1, -1.77),
              (1024.2, -2.15), (1025.6, -2.00), (1026.8, -1.81), (1028.0, -2.08), (1029.0, -1.92),
              (1030.1, -1.73), (1031.5, -2.08), (1032.7, -1.92), (1033.8, -1.77), (1035.1, -1.65),
              (1036.2, -1.92), (1037.2, -1.69), (1038.6, -1.62), (1039.7, -1.92), (1040.8, -2.23),
              (1042.1, -2.38), (1043.1, -2.77), (1044.2, -2.12), (1045.4, -1.92), (1046.6, -2.15),
              (1047.7, -1.73), (1048.7, -1.62), (1049.9, -1.69), (1051.0, -1.50), (1052.1, -1.46),
              (1053.4, -1.69), (1054.4, -1.38), (1055.5, -1.54), (1056.6, -1.77), (1057.7, -1.58),
              (1058.9, -1.81), (1060.0, -1.69), (1061.1, -1.92), (1062.3, -2.04), (1063.4, -2.19),
              (1064.5, -2.31), (1065.6, -2.38), (1066.8, -2.46), (1067.9, -2.69), (1069.0, -2.85),
              (1070.1, -3.00), (1071.3, -3.15), (1072.4, -3.31), (1073.5, -3.38), (1074.6, -3.46),
              (1075.8, -3.58), (1076.9, -3.50), (1078.0, -3.46), (1079.2, -3.38), (1080.3, -3.42),
              (1081.4, -3.46), (1082.5, -3.50), (1083.7, -3.42), (1084.8, -3.62), (1085.9, -3.46),
              (1087.0, -3.38), (1088.2, -3.46), (1089.3, -3.62), (1090.4, -3.38), (1091.5, -3.54),
              (1092.7, -3.58), (1093.8, -3.62)]
c_o3_curve = [
    [(914.4, -2.15), (915.8, -1.85), (916.8, -1.58), (918.2, -1.69), (919.6, -1.58), (921.0, -1.00),
     (922.4, 0.38), (923.8, -0.54), (925.2, -1.65), (926.6, -0.81), (928.0, -1.15), (929.4, -1.50),
     (933.0, -1.35), (937.2, -1.23), (941.4, -1.14), (944.2, -1.08), (945.6, -1.00), (948.5, -1.15),
     (951.3, -1.15), (954.1, -1.31), (956.9, -1.54), (960.4, -1.69), (962.5, -1.46), (964.6, -1.15),
     (967.5, -0.96), (968.9, -0.65), (969.9, -0.85), (971.0, -0.77), (972.1, -0.81), (973.1, -0.77),
     (974.5, 0.19), (975.9, -0.38), (977.3, -1.08), (979.4, -1.15), (980.6, -1.23), (982.3, -1.35),
     (984.4, -1.62), (987.2, -1.92), (989.7, -2.27)],
    [(1015.8, -1.88), (1017.5, -1.85), (1018.9, -1.88), (1021.0, -1.77), (1023.1, -1.46), (1025.2, -1.08),
     (1026.6, -0.54), (1028.0, -0.12), (1029.4, -1.00), (1030.8, -1.38), (1033.0, -1.35), (1035.1, -1.12),
     (1037.2, -0.92), (1037.9, -0.73), (1039.3, -1.04), (1041.4, -1.00), (1044.2, -0.94), (1048.5, -0.92),
     (1051.3, -0.96), (1052.7, -0.88), (1054.4, -0.46), (1055.8, -0.85), (1058.3, -1.15), (1060.4, -1.46),
     (1062.3, -1.85), (1063.2, -1.46), (1064.2, 0.23), (1065.4, -0.08), (1066.8, -1.12), (1068.9, -1.00),
     (1071.0, -0.69), (1072.4, -0.50), (1073.8, -0.69), (1075.9, -0.81), (1079.4, -0.85), (1082.3, -0.92),
     (1084.4, -1.08), (1085.8, -1.15), (1086.5, -0.46), (1087.5, -1.15), (1088.6, -1.08), (1090.0, -0.23),
     (1091.0, -0.85), (1092.1, -1.54), (1093.5, -1.96)]]

c_h2o_lines = [(915.8, -3.24), (917.5, -1.68), (918.9, -2.11), (920.6, -2.07), (922.0, -2.15), (923.8, 0.47),
               (925.9, -2.15), (928.0, -0.70), (930.1, -3.20), (932.3, -3.67), (934.1, -3.36), (936.1, -3.44),
               (937.9, -2.93), (940.0, -2.27), (941.7, -3.05), (943.5, -2.11), (944.9, -2.58), (946.8, -1.52),
               (948.5, -2.42), (949.9, -2.19), (951.5, -2.11), (953.0, -2.34), (954.1, -2.23), (955.5, -2.07),
               (956.9, -2.34), (958.3, -2.93), (959.7, -2.03), (961.4, -3.24), (963.2, -3.36), (965.1, -2.11),
               (966.8, -2.73), (968.2, -2.50), (969.9, -0.78), (971.0, -2.03), (972.1, -1.68), (973.1, -1.33),
               (974.1, -1.80), (975.2, 0.08), (976.6, -1.25), (977.7, -1.64), (978.7, -2.19), (980.1, -2.89),
               (981.5, -2.66), (983.0, -2.97), (983.9, -1.95), (985.4, -3.52), (986.8, -3.83), (988.2, -3.32),
               (989.6, -2.77), (991.0, -3.79),
               (1018.6, -1.88), (1020.0, -2.85), (1021.4, -2.97), (1023.4, -3.36), (1025.2, -3.32),
               (1027.3, -2.15), (1028.7, 0.35), (1030.1, -2.42), (1031.5, -2.23), (1033.2, -2.89),
               (1035.1, -2.58), (1036.9, -2.15), (1038.6, -2.66), (1039.7, -0.31), (1041.4, -2.89),
               (1042.8, -2.85), (1044.2, -2.50), (1045.6, -2.19), (1047.0, -0.23), (1048.2, -2.58),
               (1049.6, -2.34), (1051.0, -2.81), (1052.4, -2.66), (1054.1, -2.19), (1055.8, -0.59),
               (1057.2, -1.64), (1058.3, -1.68), (1059.7, -1.91), (1061.1, -1.76), (1062.3, -2.03),
               (1063.7, -1.80), (1065.1, -1.52), (1066.2, 0.23), (1067.5, -1.21), (1068.9, -2.66),
               (1070.3, -1.72), (1071.7, -1.29), (1073.1, -1.02), (1074.1, -0.70), (1075.2, -1.41),
               (1076.6, -2.50), (1078.0, -2.73), (1079.4, -3.13), (1080.8, -2.89), (1082.3, -3.32),
               (1083.7, -3.20), (1084.8, -2.19), (1085.8, -2.03), (1086.9, -1.64), (1088.2, -0.51),
               (1089.3, -1.91), (1090.7, -0.23), (1092.1, -2.11), (1093.5, -2.19), (1094.9, -2.38)]
c_h2o_curve = [
    [(916.3, -2.15), (918.9, -2.07), (921.7, -1.99), (925.9, -1.80), (930.1, -1.60), (934.4, -1.41),
     (938.6, -1.21), (942.8, -1.11), (947.0, -1.09), (951.3, -1.15), (954.8, -1.37), (957.6, -1.64),
     (959.4, -1.84), (961.1, -1.72), (963.9, -1.41), (968.2, -1.17), (972.4, -1.05), (975.2, -1.05),
     (978.0, -1.13), (982.3, -1.41), (986.5, -1.72), (991.4, -2.11)],
    [(1017.5, -1.68), (1020.3, -1.64), (1023.1, -1.48), (1025.9, -1.29), (1028.7, -1.17), (1030.8, -1.21),
     (1033.0, -1.09), (1035.8, -0.98), (1038.6, -0.94), (1042.8, -0.92), (1047.0, -0.82), (1051.3, -0.78),
     (1054.8, -0.90), (1058.3, -1.25), (1061.1, -1.64), (1062.8, -1.88), (1064.6, -1.64), (1068.2, -1.17),
     (1072.4, -0.94), (1076.6, -0.88), (1080.8, -0.94), (1085.1, -1.17), (1089.3, -1.48), (1092.1, -1.72),
     (1094.9, -1.91)]]

c_co2_lines = [(915.0, -2.14), (916.4, -2.02), (917.9, -1.94), (919.3, -1.79), (920.7, -1.67), (922.1, -1.55),
               (923.6, -1.45), (925.0, -1.37), (926.4, -1.40), (927.9, -1.31), (929.3, -1.25), (930.7, -1.19),
               (932.1, -1.15), (933.6, -1.11), (935.0, -1.10), (936.4, -1.07), (937.9, -1.06), (939.3, -1.05),
               (940.7, -1.06), (942.1, -1.07), (943.6, -1.07), (945.0, -1.09), (946.4, -1.11), (947.9, -1.15),
               (949.3, -1.21), (950.7, -1.28), (952.1, -1.35), (953.6, -1.45), (955.0, -1.56), (956.4, -1.67),
               (957.9, -1.83), (959.3, -1.98),
               (962.1, -1.55), (963.6, -1.43), (965.0, -1.33), (966.4, -1.25), (967.9, -1.19), (969.3, -1.13),
               (970.7, -1.10), (972.1, -1.07), (973.6, -1.07), (975.0, -1.10), (976.4, -1.15), (977.9, -1.19),
               (979.3, -1.25), (980.7, -1.31), (982.1, -1.39), (983.6, -1.47), (985.0, -1.56), (986.4, -1.67),
               (987.9, -1.79), (989.3, -1.94), (990.7, -2.10), (992.1, -2.26),
               (1019.3, -2.10), (1020.7, -1.98), (1022.1, -1.87), (1023.6, -1.71), (1025.0, -1.59),
               (1026.4, -1.47), (1027.9, -1.37), (1029.3, -1.27), (1030.7, -1.19), (1032.1, -1.11),
               (1033.6, -1.06), (1035.0, -1.01), (1036.4, -0.98), (1037.9, -0.95), (1039.3, -0.93),
               (1040.7, -0.91), (1042.1, -0.91), (1043.6, -0.93), (1045.0, -0.95), (1046.4, -0.98),
               (1047.9, -1.01), (1049.3, -1.06), (1050.7, -1.11), (1052.1, -1.17), (1053.6, -1.23),
               (1055.0, -1.31), (1056.4, -1.39), (1057.9, -1.47), (1059.3, -1.59), (1060.7, -1.71),
               (1062.1, -1.79), (1063.6, -1.94), (1065.0, -2.10),
               (1066.4, -1.15), (1067.9, -1.07), (1069.3, -0.99), (1070.7, -0.93), (1072.1, -0.87),
               (1073.6, -0.85), (1075.0, -0.83), (1076.4, -0.83), (1077.9, -0.83), (1079.3, -0.85),
               (1080.7, -0.87), (1082.1, -0.91), (1083.6, -0.98), (1085.0, -1.06), (1086.4, -1.15),
               (1087.9, -1.27), (1089.3, -1.40), (1090.7, -1.55), (1092.1, -1.71), (1093.6, -1.87),
               (1095.0, -2.02), (1096.4, -2.18)]
c_co2_curve = [
    [(915.4, -2.14), (916.9, -1.71), (918.3, -1.79), (919.7, -1.94), (921.4, -1.07), (922.9, 0.40),
     (924.3, -0.44), (925.7, -2.18), (926.9, -1.63), (927.9, -0.83), (928.9, -1.79), (930.0, -2.86),
     (931.4, -2.98), (932.9, -2.94), (934.3, -2.86), (935.7, -3.13), (937.1, -3.41), (938.6, -3.05),
     (940.0, -2.50), (941.4, -2.58), (943.1, -2.26), (945.0, -2.02), (946.9, -1.63), (948.6, -1.94),
     (950.3, -2.66), (952.1, -2.42), (954.3, -2.18), (956.0, -2.66), (957.9, -2.26), (959.3, -1.87),
     (960.7, -2.42), (962.1, -2.70), (964.3, -2.50), (966.4, -2.34), (967.9, -2.26), (968.9, -1.47),
     (970.0, -0.83), (971.1, -1.07), (972.3, -1.47), (973.6, -1.15), (974.6, -0.60), (975.4, 0.08),
     (976.4, -0.67), (977.4, -1.47), (979.3, -1.63), (980.7, -1.79), (982.1, -1.71), (983.6, -2.42),
     (985.0, -2.34), (987.1, -2.73), (988.9, -2.77), (990.7, -2.58), (992.9, -2.66), (994.3, -2.70)],
    [(1019.7, -1.59), (1021.4, -1.79), (1023.6, -1.87), (1025.7, -1.75), (1027.9, -1.23), (1029.3, -0.67),
     (1030.3, -0.20), (1031.4, -0.75), (1032.9, -1.47), (1034.3, -1.87), (1035.7, -1.71), (1037.4, -1.75),
     (1038.6, -1.31), (1039.7, -0.83), (1040.7, -1.07), (1042.1, -1.79), (1044.3, -2.30), (1046.4, -1.79),
     (1047.9, -1.55), (1050.0, -1.51), (1052.1, -1.35), (1054.3, -1.15), (1056.0, -0.56), (1057.1, -0.83),
     (1058.6, -1.31), (1060.0, -1.47), (1061.7, -1.51), (1063.1, -1.63), (1065.0, -1.59), (1066.0, -0.91),
     (1067.1, 0.24), (1068.3, -0.67), (1069.3, -1.55), (1070.7, -1.79), (1072.1, -2.06), (1073.6, -1.79),
     (1074.6, -1.07), (1076.0, -0.75), (1077.4, -1.15), (1079.3, -1.94), (1080.7, -2.42), (1082.1, -2.58),
     (1083.1, -2.18), (1084.3, -2.34), (1085.7, -1.47), (1087.1, -2.10), (1088.3, -1.94), (1089.3, -0.52),
     (1090.3, -1.87), (1091.4, -1.47), (1092.9, -0.16), (1094.0, -0.99), (1095.0, -1.63), (1096.4, -2.26)]]

c_nh3_lines = [(916.4, -3.10), (918.9, -2.36), (921.1, -2.56), (923.1, -2.09), (925.0, -2.33), (926.9, -1.59),
               (927.9, -1.12), (928.9, -1.01), (929.7, -1.20), (930.7, -0.89), (931.7, -0.78), (932.9, -0.74),
               (935.0, -2.13), (937.1, -2.71), (938.6, -2.71), (941.0, -3.37), (942.6, -3.68), (944.3, -3.22),
               (946.4, -3.37), (947.9, -2.71), (949.7, -2.48), (951.4, -2.29), (952.9, -2.83), (954.3, -2.79),
               (955.7, -2.25), (957.1, -1.74), (958.6, -1.67), (959.7, -1.51), (960.7, -2.48), (962.1, -2.21),
               (963.1, -1.12), (964.3, -1.01), (965.7, -0.54), (966.9, -0.50), (967.6, -1.05), (968.6, -2.56),
               (970.0, -2.17), (971.4, -2.79), (972.9, -0.97), (974.6, -3.49), (988.6, -2.99), (989.7, -2.79),
               (990.7, -3.29), (991.7, -2.91), (992.9, -1.40),
               (1025.0, -2.79), (1027.4, -3.60), (1028.6, -1.86), (1030.0, -2.87), (1031.1, -2.98),
               (1032.1, -1.51), (1033.1, -2.36), (1034.3, -2.56), (1035.4, -3.22), (1036.4, -1.55),
               (1037.9, -2.91), (1038.9, -3.53), (1040.0, -3.64), (1041.4, -3.29), (1042.9, -2.91),
               (1044.3, -2.98), (1045.4, -2.67), (1046.9, -2.64), (1047.9, -1.74), (1048.6, -2.95),
               (1050.0, -3.14), (1051.4, -2.87), (1052.9, -2.83), (1054.6, -2.64), (1056.0, -2.02),
               (1057.1, -2.98), (1058.6, -3.37), (1060.0, -3.22), (1061.4, -3.49), (1062.9, -3.22),
               (1064.3, -2.91), (1065.7, -2.60), (1067.1, -1.78), (1068.3, -2.74), (1069.7, -1.78),
               (1071.4, -2.60), (1072.9, -3.33), (1074.0, -2.29), (1075.0, -2.83), (1076.4, -2.52),
               (1077.9, -2.13), (1078.9, -1.05), (1080.3, -2.91), (1081.7, -3.45), (1083.1, -3.29),
               (1084.3, -3.37), (1086.4, -2.33), (1087.4, -0.04), (1088.6, -2.64), (1089.7, -2.33),
               (1091.1, -3.02), (1092.1, -2.64), (1093.6, -2.17), (1095.0, -3.10), (1096.4, -2.05)]
c_nh3_curve = [
    [(914.6, -2.25), (916.4, -1.90), (918.6, -1.51), (920.3, -1.55), (921.7, -1.29), (923.1, -0.74),
     (924.6, 0.43), (925.7, -0.12), (926.9, -1.43), (927.9, -0.97), (928.9, -0.74), (930.3, -1.12),
     (931.7, -1.43), (933.6, -1.36), (937.1, -1.24), (941.4, -1.12), (945.0, -1.05), (947.1, -0.93),
     (948.6, -0.97), (951.4, -1.20), (954.3, -1.36), (957.9, -1.47), (961.4, -1.59), (963.6, -1.59),
     (965.7, -1.28), (967.9, -1.05), (970.0, -0.89), (971.1, -0.66), (972.9, -0.97), (975.0, -0.97),
     (976.4, 0.12), (977.4, -0.43), (979.3, -0.89), (981.4, -1.12), (982.9, -1.16), (985.0, -1.43),
     (987.1, -1.59), (989.3, -1.74), (991.4, -1.94), (993.6, -2.13)],
    [(1021.4, -1.59), (1023.6, -1.55), (1025.7, -1.47), (1027.1, -1.20), (1028.6, -0.27), (1030.0, -0.12),
     (1031.4, -0.81), (1033.6, -1.20), (1035.7, -1.12), (1037.9, -1.05), (1040.0, -0.62), (1041.4, -0.70),
     (1042.9, -0.89), (1045.7, -0.85), (1048.6, -0.81), (1051.4, -0.74), (1054.3, -0.70), (1056.4, -0.62),
     (1057.9, -0.47), (1059.3, -0.74), (1061.4, -1.05), (1064.3, -1.40), (1065.7, -1.51), (1066.9, -0.58),
     (1067.9, 0.19), (1068.9, -0.43), (1070.3, -1.09), (1072.1, -1.09), (1073.6, -0.97), (1075.0, -0.66),
     (1076.9, -0.47), (1078.6, -0.62), (1080.7, -0.81), (1083.6, -0.93), (1085.7, -1.05), (1087.9, -1.09),
     (1089.3, -0.74), (1090.0, -0.47), (1091.1, -1.05), (1092.3, -0.74), (1093.6, -0.27), (1095.0, -0.43),
     (1096.4, -1.51), (1097.9, -1.90)]]

# axis ranges, ticks and labels
a_xlim = (2890, 2920)
b_xlim = (1800, 2200)
c_xlim = (898, 1100)
a_ticks_upper = [2890, 2896, 2902, 2908, 2914, 2920]
a_ticks_lower = [2890, 2895, 2900, 2905, 2910, 2915, 2920]
a_ticklabels = ["2890", "", "2900", "", "2910", "", ""]
b_ticks = [1800, 1840, 1880, 1920, 1960, 2000, 2040, 2080, 2120, 2160, 2200]
b_ticklabels = ["1800", "", "1880", "", "1960", "", "2040", "", "2120", "", ""]
c_ticks = [900, 920, 940, 960, 980, 1000, 1020, 1040, 1060, 1080, 1100]
c_ticklabels = ["900", "", "940", "", "980", "", "1020", "", "1060", "", ""]

fig = plt.figure(figsize=(W / 100, H / 100), dpi=100)


def px(x):
    return x / W


def py(y):
    return 1 - y / H


def make_axes(left, right, top, bottom):
    return fig.add_axes([px(left), py(bottom), (right - left) / W, (bottom - top) / H])


def draw_panel(ax, lines, curves, gas, xlim, ytop, ticks, labels, ypad=6, yfs=11):
    ax.set_yscale("log")
    ax.set_xlim(*xlim)
    ax.set_ylim(1e-4, 10 ** ytop)
    lx, ly = np.array(lines, dtype=float).T
    ax.vlines(lx, 1e-4, 10 ** ly, colors="k", linewidth=1.0, zorder=2)
    for seg in curves:
        cx, cy = np.array(seg, dtype=float).T
        ax.plot(cx, 10 ** cy, color="k", lw=2.3, solid_joinstyle="round",
                clip_on=False, zorder=3)
    for side in ("top", "right"):
        ax.spines[side].set_visible(False)
    for side in ("left", "bottom"):
        ax.spines[side].set_linewidth(1.6)
    # short cap on top of the y axis
    ax.plot([0, 0.015], [1, 1], transform=ax.transAxes, color="k", lw=1.6,
            clip_on=False, solid_capstyle="butt")
    ax.text(0.022, 0.985, gas, transform=ax.transAxes, ha="left", va="top",
            fontsize=16, math_fontfamily="dejavusans")

    ax.set_yticks([1e-4, 1e-2, 1])
    ax.set_yticklabels([r"$\mathit{10^{-4}}$", r"$\mathit{10^{-2}}$", r"$\mathit{10^{0}}$"],
                       fontsize=yfs, math_fontfamily="dejavusans")
    ax.yaxis.set_minor_locator(FixedLocator([1e-3, 1e-1]))
    ax.yaxis.set_minor_formatter(NullFormatter())
    ax.tick_params(axis="y", which="major", direction="in", length=7, width=1.3, pad=ypad)
    ax.tick_params(axis="y", which="minor", direction="in", length=6, width=1.3)

    ax.set_xticks(ticks)
    if labels is None:
        ax.set_xticklabels([""] * len(ticks))
    else:
        ax.set_xticklabels(labels, fontsize=13, fontstyle="italic", fontweight="bold")
        ax.get_xticklabels()[0].set_horizontalalignment("left")
    ax.tick_params(axis="x", direction="out", length=6, width=1.3, pad=4)


# group а
a_left, a_right = 50, 581
ax = make_axes(a_left, a_right, 10, 185)
draw_panel(ax, a_o3_lines, [a_o3_curve], r"$\mathit{O_3}$", a_xlim, 1.03, a_ticks_upper, None)
ax = make_axes(a_left, a_right, 207, 381)
draw_panel(ax, a_h2o_lines, [a_h2o_curve], r"$\mathit{H_2O}$", a_xlim, 1.03, a_ticks_upper, None)
ax = make_axes(a_left, a_right, 407, 578)
draw_panel(ax, a_ch4_lines, [a_ch4_curve], r"$\mathit{CH_4}$", a_xlim, 1.03, a_ticks_lower, None)
ax = make_axes(a_left, a_right, 599, 773)
draw_panel(ax, a_no2_lines, [a_no2_curve], r"$\mathit{NO_2}$", a_xlim, 1.03, a_ticks_lower, a_ticklabels)

# group б
b_left, b_right = 659, 1182
ax = make_axes(b_left, b_right, 8, 173)
draw_panel(ax, b_h2o_lines, b_h2o_curve, r"$\mathit{H_2O}$", b_xlim, 1.1, b_ticks, None, ypad=4)
ax = make_axes(b_left, b_right, 197, 365)
draw_panel(ax, b_co2_lines, b_co2_curve, r"$\mathit{CO_2}$", b_xlim, 1.1, b_ticks, None, ypad=4)
ax = make_axes(b_left, b_right, 392, 560)
draw_panel(ax, b_co_lines, b_co_curve, r"$\mathit{CO}$", b_xlim, 1.1, b_ticks, None, ypad=4)
ax = make_axes(b_left, b_right, 588, 755)
draw_panel(ax, b_no_lines, b_no_curve, r"$\mathit{NO}$", b_xlim, 1.1, b_ticks, b_ticklabels, ypad=4)

# group в
c_left, c_right = 42, 592
ax = make_axes(c_left, c_right, 841, 1057)
draw_panel(ax, c_o3_lines, c_o3_curve, r"$\mathit{O_3}$", c_xlim, 1.0, c_ticks, None, ypad=1.5, yfs=10.5)
ax = make_axes(c_left, c_right, 1082, 1293)
draw_panel(ax, c_h2o_lines, c_h2o_curve, r"$\mathit{H_2O}$", c_xlim, 1.0, c_ticks, None, ypad=1.5, yfs=10.5)
ax = make_axes(c_left, c_right, 1322, 1533)
draw_panel(ax, c_co2_lines, c_co2_curve, r"$\mathit{CO_2}$", c_xlim, 1.0, c_ticks, None, ypad=1.5, yfs=10.5)
ax = make_axes(c_left, c_right, 1560, 1773)
draw_panel(ax, c_nh3_lines, c_nh3_curve, r"$\mathit{NH_3}$", c_xlim, 1.0, c_ticks, c_ticklabels,
           ypad=1.5, yfs=10.5)

# wavenumber labels at the right end of each lower axis
for xn, xc, yb, unit in [(508, 534, 801, "см$^{-1}$"), (1128, 1152, 783, "см$^{-1}$"),
                         (520, 546, 1802, "см$^{1}$")]:
    fig.text(px(xn), py(yb), "ν,", fontsize=14, fontstyle="italic", fontweight="bold",
             va="baseline", ha="left")
    fig.text(px(xc), py(yb), unit, fontsize=13, family="Liberation Serif",
             math_fontfamily="custom", va="baseline", ha="left")

# panel letters
for xl, yl, s in [(296, 828, "а"), (908, 818, "б"), (296, 1820, "в")]:
    fig.text(px(xl), py(yl), s, fontsize=17, family="Liberation Serif", fontstyle="italic",
             ha="center", va="baseline")

# figure caption, justified between two margins
cap_x0, cap_x1 = 640, 1176
CAP_FS = 17
IT = {"fontstyle": "italic"}
caption = [
    (1445, ["Рис.", "2.", "Коэффициенты", "поглощения", "(км$^{-1}$)", "«мешаю-"]),
    (1470, ["щих»", "(сплошные", "кривые)", "и", "анализируемых", "газов"]),
    (1495, ["(вертикальные", "линии).", "Модель", "атмосферы", "—", "лето"]),
    (1520, ["средних", "широт.", "Значения", "концентраций", "«мешаю-"]),
    (1546, ["щих»", "газов", "—", "фоновые:", ("а", IT), "—", "суммарные", "частоты"]),
    (1572, ["CO$_2$-", "и", "CO-лазеров.", "Концентрации", "анализируемых"]),
    (1604, ["газов:",
            r"$\mathrm{ρ_{O_3}\ =\ 10^3\cdot ρ^{ф}_{O_3};}$",
            r"$\mathrm{ρ_{H_2O}\ =\ ρ^{ф}_{H_2O};}$",
            r"$\mathrm{ρ_{CH_4}\ =\ ρ^{ф}_{CH_4};}$"]),
    (1643, [r"$\mathrm{ρ_{NO_2}\ =\ 10^3\cdot ρ^{ф}_{NO_2};}$", ("б", IT), "—", "частоты",
            "второй", "гармоники"]),
    (1682, ["CO$_2$-лазера;", "концентрации", "анализируемых", "газов:"]),
    (1717, [r"$\mathrm{ρ_{H_2O}\ =\ ρ^{ф}_{H_2O};}$",
            r"$\mathrm{ρ_{CO_2}\ =\ ρ^{ф}_{CO_2};}$",
            r"$\mathrm{ρ_{CO}\ =\ ρ^{ф}_{CO};}$",
            r"$\mathrm{ρ_{NO}\ =\ 10^3\cdot ρ^{ф}_{NO};}$"]),
    (1750, [("в", IT), "—", "частоты", "основной", "гармоники", "CO$_2$-лазера."]),
    (1784, [r"$\mathrm{ρ_{O_3}\ =\ ρ^{ф}_{O_3};}$",
            r"$\mathrm{ρ_{H_2O}\ =\ ρ^{ф}_{H_2O};}$",
            r"$\mathrm{ρ_{CO_2}\ =\ ρ^{ф}_{CO_2};}$",
            r"$\mathrm{ρ_{NH_3}\ =\ 200ρ^{ф}_{NH_3}.}$"]),
    (1817, ["Континуальное", "поглощение", "H$_2$O", "не", "учитывалось"]),
]

renderer = fig.canvas.get_renderer()
for i, (yb, tokens) in enumerate(caption):
    items = []
    for tok in tokens:
        s, kw = (tok if isinstance(tok, tuple) else (tok, {}))
        t = fig.text(px(cap_x0), py(yb), s, fontsize=CAP_FS, family="Liberation Serif",
                     math_fontfamily="custom", ha="left", va="baseline", **kw)
        items.append(t)
    widths = [t.get_window_extent(renderer).width for t in items]
    last = i == len(caption) - 1
    gap = 5.8 if last else (cap_x1 - cap_x0 - sum(widths)) / (len(items) - 1)
    x = cap_x0
    for t, w in zip(items, widths):
        t.set_x(px(x))
        x += w + gap

fig.savefig("out.png", dpi=100)
